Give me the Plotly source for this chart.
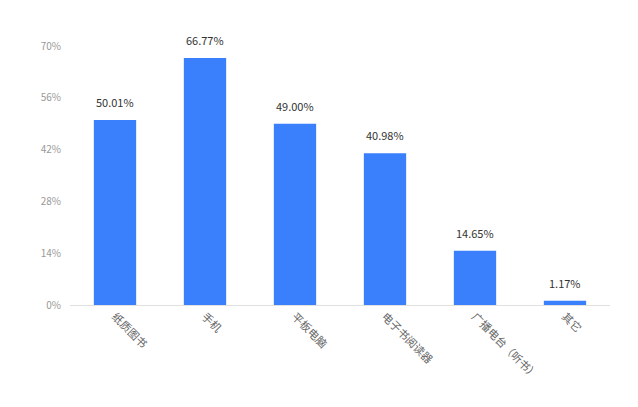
import plotly.graph_objects as go

categories = ["纸质图书", "手机", "平板电脑", "电子书阅读器", "广播电台（听书）", "其它"]
values = [50.01, 66.77, 49.00, 40.98, 14.65, 1.17]
y_ticks = [0, 14, 28, 42, 56, 70]
y_tick_labels = [f"{v}%" for v in y_ticks]

font_family = "Noto Sans CJK SC, DejaVu Sans, sans-serif"

fig = go.Figure()
fig.add_trace(go.Bar(
    x=categories,
    y=values,
    width=0.47,
    marker=dict(color="#3a7ffc", line=dict(width=0)),
    cliponaxis=False,
))

for c, v in zip(categories, values):
    fig.add_annotation(
        x=c, y=v, text=f"{v:.2f}%", showarrow=False,
        yanchor="bottom", yshift=8,
        font=dict(size=11, color="#333333", family=font_family),
    )

fig.update_layout(
    width=630, height=399,
    margin=dict(l=62, r=28, t=38, b=102),
    paper_bgcolor="white", plot_bgcolor="white",
    showlegend=False,
    font=dict(family=font_family),
)
fig.update_xaxes(
    tickangle=45,
    tickfont=dict(size=11, color="#666666", family=font_family),
    showline=True, linecolor="#e0e0e0", linewidth=1,
    ticks="", showgrid=False,
)
fig.update_yaxes(
    range=[0, 70],
    tickvals=y_ticks, ticktext=y_tick_labels,
    tickfont=dict(size=10, color="#999999", family=font_family),
    showgrid=False, zeroline=False, showline=False,
    ticks="", ticklabelstandoff=8,
)

fig.write_html("out.html")
